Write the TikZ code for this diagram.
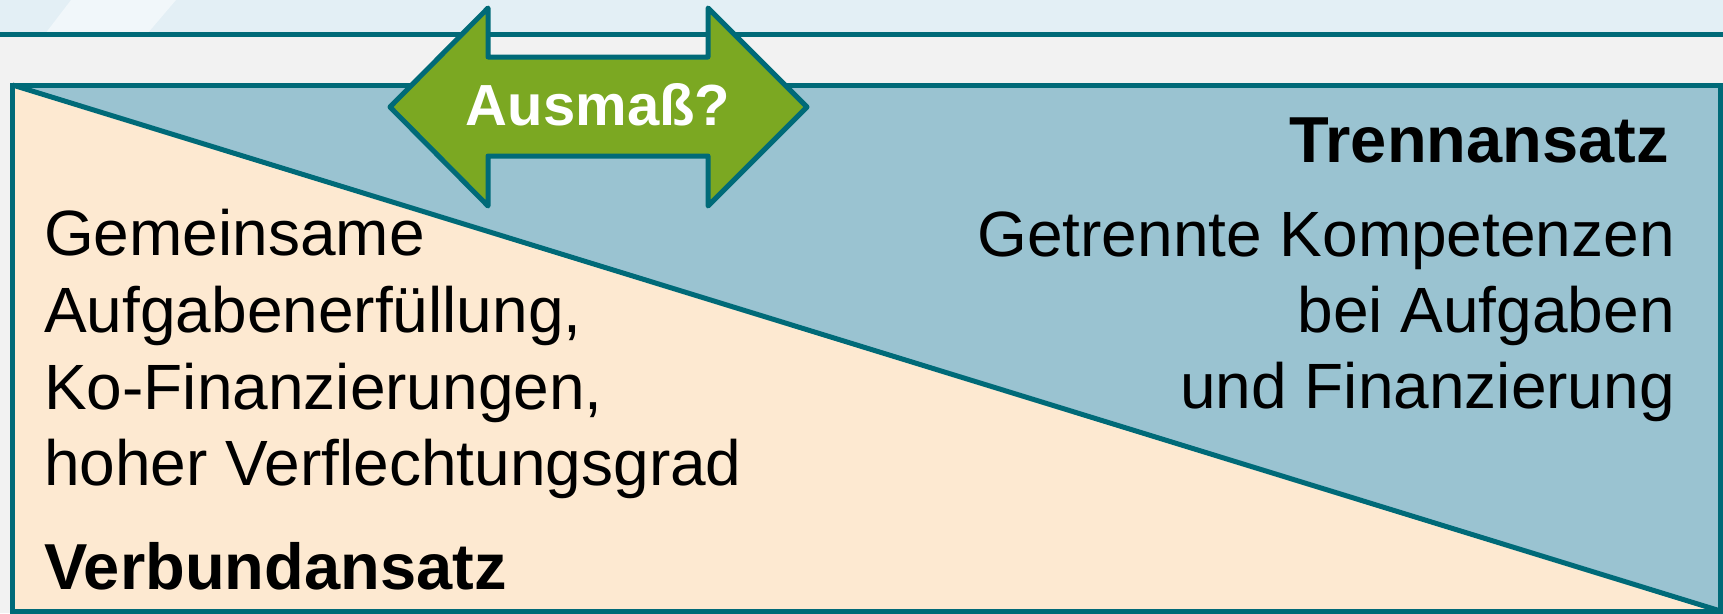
\documentclass[tikz,border=0pt]{standalone}
\usepackage{fontspec}
\setmainfont{Liberation Sans}
\definecolor{teal}{RGB}{0,106,120}
\definecolor{bandblue}{RGB}{227,239,245}
\definecolor{bandlight}{RGB}{241,247,250}
\definecolor{pagegray}{RGB}{242,242,242}
\definecolor{sepblue}{RGB}{154,195,209}
\definecolor{peach}{RGB}{253,233,209}
\definecolor{leaf}{RGB}{123,168,34}
\tikzset{
  edge/.style={draw=teal, line width=5pt},
  bodytext/.style={inner sep=0pt, font=\fontsize{64}{76}\selectfont},
  headtext/.style={inner sep=0pt, font=\fontsize{65}{76}\selectfont\bfseries},
  arrowtext/.style={inner sep=0pt, text=white, font=\fontsize{58}{60}\selectfont\bfseries}
}
\begin{document}
\begin{tikzpicture}[x=1pt, y=-1pt]
  \useasboundingbox (0,0) rectangle (1723,613);
  % header band with its light diagonal stripe
  \fill[bandblue] (0,0) rectangle (1723,34);
  \fill[bandlight] (45,34) -- (147,34) -- (176,0) -- (71,0) -- cycle;
  \fill[pagegray] (0,34) rectangle (1723,613);
  \draw[edge] (0,34.5) -- (1723,34.5);
  % the two halves of the box
  \coordinate (tl) at (12.5,85);
  \coordinate (tr) at (1720.5,85);
  \coordinate (br) at (1720.5,611);
  \coordinate (bl) at (12.5,611);
  \fill[peach] (tl) -- (tr) -- (br) -- (bl) -- cycle;
  \fill[sepblue] (tl) -- (tr) -- (br) -- cycle;
  \draw[edge, line join=miter] (tl) -- (tr) -- (br) -- (bl) -- cycle;
  \draw[edge] (tl) -- (br);
  % double arrow
  \draw[edge, fill=leaf, line join=round]
    (390,107) -- (488,8) -- (488,57) -- (708,57) -- (708,8) -- (807,107)
    -- (708,206) -- (708,156) -- (488,156) -- (488,206) -- cycle;
  \node[arrowtext, anchor=base] (ausmass) at (598,125) {Ausmaß?};
  % right side texts
  \node[headtext, anchor=base east] (trenn) at (1669,162) {Trennansatz};
  \node[bodytext, anchor=base east] (r1) at (1675,256) {Getrennte Kompetenzen};
  \node[bodytext, anchor=base east] (r2) at (1675,332) {bei Aufgaben};
  \node[bodytext, anchor=base east] (r3) at (1675,408) {und Finanzierung};
  % left side texts
  \node[bodytext, anchor=base west] (l1) at (44,255) {Gemeinsame};
  \node[bodytext, anchor=base west] (l2) at (44,332) {Aufgabenerfüllung,};
  \node[bodytext, anchor=base west] (l3) at (44,409) {Ko-Finanzierungen,};
  \node[bodytext, anchor=base west] (l4) at (44,485) {hoher Verflechtungsgrad};
  \node[headtext, anchor=base west] (verbund) at (44,589) {Verbundansatz};
\end{tikzpicture}
\end{document}
